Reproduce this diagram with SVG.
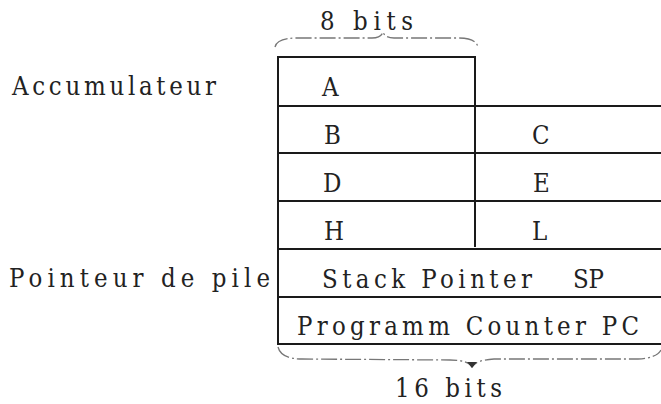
<svg xmlns="http://www.w3.org/2000/svg" width="661" height="404" viewBox="0 0 661 404">
  <style>
    .t { font-family: "DejaVu Serif", "Liberation Serif", serif; font-stretch: condensed; font-size: 25.5px; fill: #222222; }
    .ln { stroke: #1a1a1a; stroke-width: 2; fill: none; stroke-linecap: square; }
    .brace { stroke: #777777; stroke-width: 1.3; fill: none; stroke-dasharray: 16 3 2 3; }
  </style>
  <rect width="661" height="404" fill="#ffffff"/>

  <g id="labels">
    <text class="t" x="320" y="30" textLength="93" lengthAdjust="spacing">8 bits</text>
    <text class="t" x="12" y="95" textLength="204" lengthAdjust="spacing">Accumulateur</text>
    <text class="t" x="9" y="287" textLength="261" lengthAdjust="spacing">Pointeur de pile</text>
    <text class="t" x="395" y="397" textLength="107" lengthAdjust="spacing">16 bits</text>
  </g>

  <g id="grid">
    <path class="ln" d="M278 57 V344 M278 57 H475 M475 57 V246"/>
    <path class="ln" d="M278 106 H661 M278 153 H661 M278 201 H661 M278 249 H661 M278 297 H661 M278 344 H661"/>
  </g>

  <g id="reg-A"><text class="t" x="322" y="96">A</text></g>
  <g id="reg-B"><text class="t" x="324" y="144">B</text></g>
  <g id="reg-C"><text class="t" x="532" y="144">C</text></g>
  <g id="reg-D"><text class="t" x="323" y="192">D</text></g>
  <g id="reg-E"><text class="t" x="533" y="192">E</text></g>
  <g id="reg-H"><text class="t" x="324" y="240">H</text></g>
  <g id="reg-L"><text class="t" x="532" y="240">L</text></g>
  <g id="reg-SP">
    <text class="t" x="322" y="288" textLength="210" lengthAdjust="spacing">Stack Pointer</text>
    <text class="t" x="573" y="288" textLength="31" lengthAdjust="spacing">SP</text>
  </g>
  <g id="reg-PC">
    <text class="t" x="297" y="335" textLength="342" lengthAdjust="spacing">Programm Counter PC</text>
  </g>

  <g id="braces">
    <path class="brace" d="M275 47 Q277 38 297 38 L372 38 Q381 38 383 32 Q385 38 394 38 L458 38 Q476 38 478 47"/>
    <path class="brace" d="M278 347 Q281 359 302 359 L450 360 Q468 360 472 367 Q476 360 494 359 L638 359 Q657 358 661 350"/>
    <path d="M467 362 L472 368 L477 362 Z" fill="#333"/>
  </g>
</svg>
